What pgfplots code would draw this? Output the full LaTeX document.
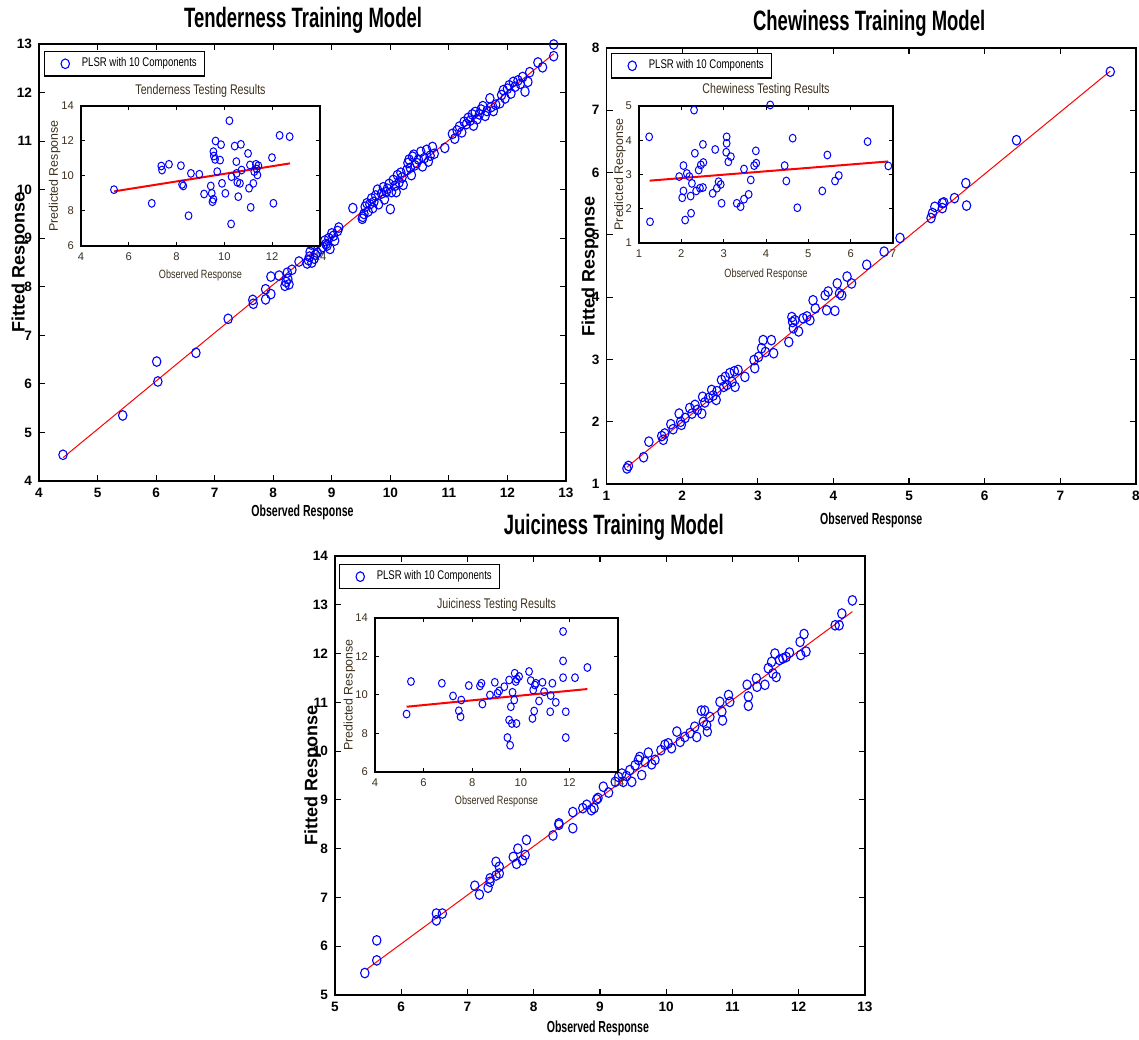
\documentclass[border=0pt]{standalone}
\usepackage{fontspec}
\setmainfont{Liberation Sans}
\newfontfamily\fT[FakeStretch=0.66]{Liberation Sans}
\newfontfamily\fL[FakeStretch=0.76]{Liberation Sans}
\usepackage{pgfplots}
\pgfplotsset{compat=1.18}
\definecolor{insettxt}{RGB}{60,48,30}
\definecolor{mblue}{RGB}{0,0,255}
\definecolor{mred}{RGB}{255,0,0}

\pgfplotsset{
 mainax/.style={scale only axis, anchor=south west, clip=false,
   axis line style={line width=0.8pt},
   major tick style={line width=0.6pt, black}, major tick length=3pt, tick align=inside,
   /pgf/number format/assume math mode=true,
   ticklabel style={font=\bfseries\fontsize{6.8}{7}\selectfont},
   xlabel style={font=\fT\bfseries\fontsize{8}{9}\selectfont, anchor=center},
   ylabel style={font=\bfseries\fontsize{9}{10}\selectfont, anchor=center},
   title style={font=\fT\bfseries\fontsize{14}{16}\selectfont, anchor=center, yshift=-6pt},
   legend style={anchor=north west, font=\fL\fontsize{6.3}{7}\selectfont,
     draw=black, line width=0.7pt, inner xsep=2pt, inner ysep=1pt},
   legend cell align=left},
 inax/.style={scale only axis, anchor=south west, clip=false,
   axis background/.style={fill=white},
   axis line style={line width=0.6pt},
   major tick style={line width=0.5pt, black}, major tick length=2pt, tick align=inside,
   /pgf/number format/assume math mode=true,
   ticklabel style={font=\fontsize{5.6}{6}\selectfont, text=insettxt},
   xlabel style={font=\fL\fontsize{6}{7}\selectfont, text=insettxt, anchor=center},
   ylabel style={font=\fontsize{6.2}{7}\selectfont, text=insettxt, anchor=center},
   title style={font=\fL\fontsize{7}{8}\selectfont, text=insettxt, anchor=center, yshift=-6pt}},
 pts/.style={only marks, mark=o, mblue, line width=0.55pt, mark size=2.1pt, mark options={yscale=1.15}},
 ipts/.style={only marks, mark=o, mblue, line width=0.5pt, mark size=1.7pt, mark options={yscale=1.15}},
 legimg/.style={mblue, line width=0.55pt, mark=o, mark size=2.1pt, mark options={yscale=1.15},
   legend image code/.code={\path (0pt,0pt) (14pt,0pt); \draw[##1] plot[only marks] coordinates {(8pt,0pt)};}},
}

\begin{document}
\begin{tikzpicture}
\useasboundingbox (0,0) rectangle (569.5pt,519.5pt);

% ================= Tenderness main =================
\begin{axis}[mainax, at={(19.5pt,279pt)}, width=263.5pt, height=218.5pt,
  xmin=4, xmax=13, ymin=4, ymax=13, xtick={4,...,13}, ytick={4,...,13},
  title={Tenderness Training Model}, title style={at={(axis description cs:0.501,1.055)}},
  xlabel={Observed Response}, xlabel style={at={(axis description cs:0.5,-0.071)}},
  ylabel={Fitted Response}, ylabel style={at={(axis description cs:-0.036,0.5)}},
  legend style={at={(0.0095,0.984)}}]
\addlegendimage{legimg}
\addlegendentry{PLSR with 10 Components}
\addplot[pts, forget plot] table {
4.41 4.54
5.43 5.35
6.01 6.46
6.03 6.05
6.68 6.64
7.23 7.34
7.65 7.73
7.66 7.65
7.87 7.95
7.87 7.74
7.96 7.85
7.96 8.21
8.10 8.23
8.20 8.02
8.22 8.10
8.24 8.29
8.25 8.16
8.27 8.05
8.32 8.35
8.44 8.52
8.58 8.48
8.60 8.55
8.62 8.62
8.63 8.72
8.65 8.87
8.66 8.50
8.70 8.58
8.72 8.66
8.75 8.70
8.82 8.78
8.85 8.82
8.88 8.95
8.90 8.88
8.92 8.85
8.95 9.00
8.97 8.78
9.00 9.10
9.03 9.05
9.05 8.95
9.10 9.15
9.12 9.22
9.36 9.62
9.52 9.40
9.53 9.44
9.55 9.50
9.57 9.65
9.60 9.72
9.62 9.55
9.65 9.70
9.68 9.82
9.70 9.62
9.72 9.75
9.75 9.88
9.78 10.00
9.80 9.70
9.85 9.92
9.88 10.05
9.90 9.80
9.93 9.95
9.95 10.02
9.98 10.12
10.00 9.60
10.02 9.95
10.05 10.20
10.08 10.08
10.10 9.95
10.12 10.30
10.15 10.15
10.18 10.35
10.20 10.25
10.22 10.10
10.28 10.40
10.30 10.55
10.32 10.62
10.34 10.45
10.36 10.30
10.38 10.68
10.40 10.72
10.42 10.50
10.45 10.55
10.48 10.62
10.52 10.78
10.55 10.48
10.58 10.65
10.62 10.82
10.65 10.58
10.68 10.70
10.72 10.88
10.75 10.74
10.93 10.86
11.06 11.15
11.10 11.05
11.14 11.22
11.18 11.30
11.22 11.18
11.26 11.40
11.30 11.35
11.33 11.48
11.36 11.42
11.40 11.55
11.42 11.32
11.45 11.60
11.48 11.45
11.52 11.55
11.55 11.65
11.58 11.72
11.62 11.52
11.65 11.62
11.70 11.88
11.72 11.70
11.76 11.62
11.80 11.75
11.87 11.78
11.90 11.95
11.93 12.05
11.96 11.88
12.00 12.08
12.03 12.15
12.06 11.98
12.10 12.22
12.13 12.12
12.18 12.25
12.22 12.18
12.26 12.32
12.30 12.02
12.35 12.22
12.38 12.42
12.52 12.62
12.60 12.52
12.79 12.99
12.79 12.75
};
\addplot[mred, line width=0.5pt, forget plot] coordinates {(4.41,4.48) (12.79,12.80)};
\end{axis}

% Tenderness inset
\begin{axis}[inax, at={(40.5pt,396.5pt)}, width=119.5pt, height=70pt,
  xmin=4, xmax=14, ymin=6, ymax=14, xtick={4,6,...,14}, ytick={6,8,...,14},
  title={Tenderness Testing Results}, title style={at={(axis description cs:0.5,1.107)}},
  xlabel={Observed Response}, xlabel style={at={(axis description cs:0.5,-0.207)}},
  ylabel={Predicted Response}, ylabel style={at={(axis description cs:-0.11,0.5)}}]
\addplot[ipts] table {
5.38 9.22
6.96 8.44
7.36 10.57
7.39 10.34
7.68 10.67
8.18 10.59
8.23 9.52
8.28 9.43
8.50 7.73
8.60 10.15
8.95 10.10
9.15 8.97
9.43 9.43
9.47 9.01
9.50 8.53
9.54 8.67
9.54 11.39
9.56 11.14
9.61 10.95
9.63 12.00
9.70 10.25
9.82 10.91
9.86 11.79
9.90 9.58
10.04 9.01
10.21 13.16
10.30 9.96
10.43 11.71
10.50 10.82
10.51 10.15
10.54 9.64
10.58 8.82
10.65 9.58
10.69 11.81
10.72 10.34
10.28 7.26
10.99 11.29
11.03 9.30
11.07 10.63
11.10 8.21
11.21 9.58
11.25 10.25
11.32 10.67
11.35 10.40
11.38 10.06
11.42 10.59
11.99 11.05
12.05 8.44
12.31 12.32
12.73 12.25
};
\addplot[mred, line width=1pt] coordinates {(5.38,9.12) (12.74,10.72)};
\end{axis}

% ================= Chewiness main =================
\begin{axis}[mainax, at={(303.25pt,277.5pt)}, width=264.75pt, height=218pt,
  xmin=1, xmax=8, ymin=1, ymax=8, xtick={1,...,8}, ytick={1,...,8},
  title={Chewiness Training Model}, title style={at={(axis description cs:0.496,1.057)}},
  xlabel={Observed Response}, xlabel style={at={(axis description cs:0.5,-0.083)}},
  ylabel={Fitted Response}, ylabel style={at={(axis description cs:-0.031,0.5)}},
  legend style={at={(0.0085,0.9885)}}]
\addlegendimage{legimg}
\addlegendentry{PLSR with 10 Components}
\addplot[pts, forget plot] table {
1.27 1.25
1.29 1.29
1.49 1.43
1.56 1.68
1.73 1.77
1.75 1.71
1.77 1.81
1.85 1.96
1.88 1.88
1.96 2.13
1.98 2.00
1.99 1.95
2.04 2.06
2.10 2.22
2.13 2.13
2.17 2.27
2.20 2.19
2.26 2.13
2.27 2.40
2.30 2.31
2.35 2.38
2.39 2.51
2.41 2.42
2.45 2.35
2.46 2.49
2.52 2.67
2.55 2.56
2.57 2.72
2.59 2.59
2.63 2.78
2.66 2.64
2.69 2.81
2.70 2.56
2.74 2.83
2.83 2.72
2.95 2.99
2.96 2.86
3.01 3.04
3.05 3.18
3.07 3.31
3.10 3.12
3.18 3.31
3.21 3.10
3.41 3.28
3.45 3.68
3.46 3.60
3.47 3.50
3.49 3.63
3.54 3.45
3.60 3.66
3.65 3.69
3.69 3.63
3.73 3.95
3.76 3.82
3.89 4.03
3.91 3.79
3.93 4.09
4.02 3.78
4.05 4.22
4.08 4.06
4.11 4.03
4.18 4.33
4.24 4.22
4.44 4.52
4.67 4.73
4.88 4.95
5.29 5.27
5.31 5.35
5.34 5.45
5.44 5.51
5.44 5.43
5.46 5.52
5.60 5.59
5.75 5.83
5.76 5.47
6.42 6.52
7.66 7.62
};
\addplot[mred, line width=0.5pt, forget plot] coordinates {(1.27,1.27) (7.66,7.63)};
\end{axis}

% Chewiness inset
\begin{axis}[inax, at={(319.5pt,398pt)}, width=127pt, height=68.5pt,
  xmin=1, xmax=7, ymin=1, ymax=5, xtick={1,...,7}, ytick={1,...,5},
  title={Chewiness Testing Results}, title style={at={(axis description cs:0.5,1.117)}},
  xlabel={Observed Response}, xlabel style={at={(axis description cs:0.5,-0.226)}},
  ylabel={Predicted Response}, ylabel style={at={(axis description cs:-0.075,0.5)}}]
\addplot[ipts] table {
1.24 4.10
1.26 1.62
1.95 2.94
2.05 3.26
2.05 2.52
2.02 2.32
2.09 1.67
2.13 3.03
2.19 2.94
2.22 2.37
2.23 1.87
2.25 2.74
2.30 4.88
2.32 3.62
2.35 2.52
2.41 3.13
2.44 2.60
2.46 3.28
2.51 3.88
2.51 2.62
2.52 3.35
2.74 2.45
2.80 3.73
2.84 2.60
2.88 2.79
2.93 2.71
2.95 2.16
3.07 4.10
3.07 3.91
3.06 3.65
3.11 3.37
3.17 3.52
3.31 2.16
3.40 2.06
3.48 3.16
3.48 2.28
3.59 2.42
3.64 2.84
3.72 3.26
3.76 3.69
3.77 3.33
4.10 5.03
4.44 3.26
4.48 2.81
4.63 4.06
4.74 2.03
5.33 2.52
5.45 3.57
5.63 2.81
5.72 2.97
6.40 3.96
6.89 3.25
};
\addplot[mred, line width=1pt] coordinates {(1.25,2.82) (6.88,3.38)};
\end{axis}

% ================= Juiciness main =================
\begin{axis}[mainax, at={(167.5pt,22pt)}, width=265pt, height=219.5pt,
  xmin=5, xmax=13, ymin=5, ymax=14, xtick={5,...,13}, ytick={5,...,14},
  title={Juiciness Training Model}, title style={at={(axis description cs:0.526,1.066)}},
  xlabel={Observed Response}, xlabel style={at={(axis description cs:0.496,-0.075)}},
  ylabel={Fitted Response}, ylabel style={at={(axis description cs:-0.042,0.5)}},
  legend style={at={(0.0075,0.982)}}]
\addlegendimage{legimg}
\addlegendentry{PLSR with 10 Components}
\addplot[pts, forget plot] table {
5.45 5.45
5.63 5.71
5.63 6.12
6.53 6.53
6.53 6.67
6.62 6.67
7.11 7.24
7.18 7.06
7.31 7.20
7.34 7.39
7.34 7.32
7.43 7.73
7.43 7.45
7.48 7.63
7.48 7.49
7.69 7.83
7.74 7.69
7.76 8.00
7.83 7.76
7.87 7.87
7.89 8.18
8.29 8.27
8.38 8.49
8.38 8.52
8.59 8.42
8.59 8.75
8.74 8.83
8.80 8.90
8.87 8.79
8.91 8.83
8.95 9.01
8.97 9.04
9.05 9.27
9.13 9.15
9.23 9.37
9.28 9.47
9.33 9.54
9.35 9.37
9.40 9.49
9.45 9.61
9.48 9.37
9.53 9.71
9.58 9.82
9.60 9.88
9.63 9.51
9.68 9.78
9.73 9.97
9.78 9.73
9.83 9.82
9.92 10.02
9.98 10.13
10.03 10.16
10.08 10.06
10.16 10.40
10.21 10.19
10.28 10.29
10.36 10.37
10.43 10.50
10.46 10.29
10.53 10.83
10.58 10.83
10.56 10.60
10.61 10.53
10.62 10.40
10.66 10.70
10.81 11.01
10.84 10.81
10.85 10.63
10.94 11.15
10.96 11.01
11.22 11.36
11.24 11.12
11.24 10.93
11.36 11.49
11.37 11.32
11.49 11.36
11.54 11.70
11.59 11.83
11.61 11.59
11.64 12.00
11.66 11.52
11.71 11.87
11.76 11.90
11.81 11.93
11.86 12.02
12.02 12.24
12.03 11.97
12.08 12.40
12.11 12.04
12.55 12.58
12.61 12.58
12.65 12.82
12.81 13.09
};
\addplot[mred, line width=0.5pt, forget plot] coordinates {(5.48,5.53) (12.81,12.86)};
\end{axis}

% Juiciness inset
\begin{axis}[inax, at={(187.5pt,133.5pt)}, width=121.5pt, height=77pt,
  xmin=4, xmax=14, ymin=6, ymax=14, xtick={4,6,...,14}, ytick={6,8,...,14},
  title={Juiciness Testing Results}, title style={at={(axis description cs:0.5,1.084)}},
  xlabel={Observed Response}, xlabel style={at={(axis description cs:0.5,-0.188)}},
  ylabel={Predicted Response}, ylabel style={at={(axis description cs:-0.105,0.5)}}]
\addplot[ipts] table {
5.30 9.01
5.48 10.70
6.75 10.61
7.21 9.95
7.45 9.18
7.52 8.87
7.55 9.74
7.86 10.49
8.32 10.47
8.38 10.61
8.42 9.53
8.73 10.00
8.93 10.66
9.04 10.09
9.11 10.21
9.32 10.43
9.45 7.79
9.52 10.78
9.52 8.70
9.56 7.39
9.59 9.39
9.63 8.52
9.66 10.14
9.73 9.74
9.75 11.13
9.79 10.70
9.82 8.52
9.84 10.83
9.93 10.96
10.34 11.22
10.41 10.75
10.48 8.78
10.51 10.26
10.55 9.17
10.58 10.52
10.62 10.61
10.75 9.69
10.89 10.66
10.96 10.17
11.21 9.13
11.23 9.97
11.30 10.61
11.44 9.62
11.74 13.30
11.74 11.77
11.74 10.90
11.85 9.13
11.85 7.79
12.23 10.90
12.74 11.43
};
\addplot[mred, line width=1pt] coordinates {(5.30,9.39) (12.74,10.31)};
\end{axis}
\end{tikzpicture}
\end{document}
